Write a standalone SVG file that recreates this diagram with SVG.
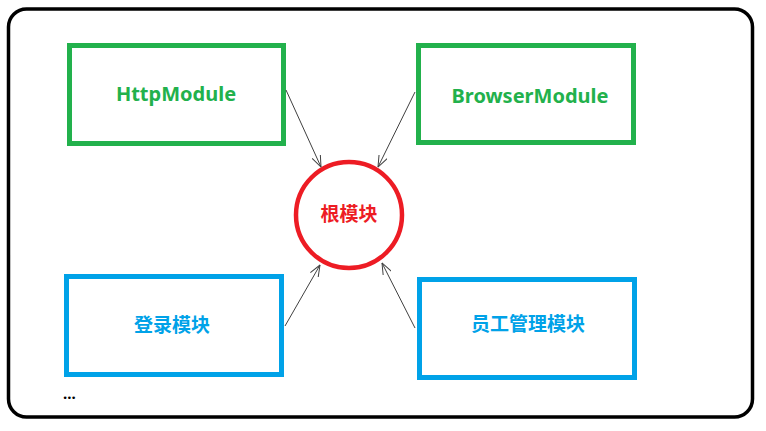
<svg xmlns="http://www.w3.org/2000/svg" width="766" height="431" viewBox="0 0 766 431">
<style>
.frame{fill:#fff;stroke:#000;stroke-width:3.5}
.g{fill:none;stroke:#22b14c;stroke-width:5}
.b{fill:none;stroke:#00a2e8;stroke-width:5}
.r{fill:none;stroke:#ed1c24;stroke-width:4.5}
.t{font-family:"Noto Sans","Noto Sans CJK SC",sans-serif;font-weight:bold;font-size:19px;text-anchor:middle}
.lat{font-size:20px}
.tg{fill:#22b14c}
.tb{fill:#00a2e8}
.tr{fill:#ed1c24}
.c{stroke:#404040;stroke-width:1;fill:none}
</style>
<defs>
<marker id="arr" markerUnits="userSpaceOnUse" viewBox="0 0 12 10" refX="11.5" refY="5" markerWidth="12" markerHeight="10" orient="auto">
<path d="M0,0.5 L11.5,5 L0,9.5" fill="none" stroke="#404040" stroke-width="1"/>
</marker>
</defs>
<rect width="766" height="431" fill="#fff"/>
<rect class="frame" x="8.5" y="9" width="744" height="408" rx="18" ry="18"/>
<g id="http">
<rect class="g" x="69.5" y="45.5" width="214" height="98"/>
<text class="t lat tg" x="176" y="101">HttpModule</text>
</g>
<g id="browser">
<rect class="g" x="418.5" y="45.5" width="215" height="97"/>
<text class="t lat tg" x="530" y="103">BrowserModule</text>
</g>
<g id="root">
<circle class="r" cx="349" cy="215" r="53"/>
<text class="t tr" x="349" y="221">根模块</text>
</g>
<g id="login">
<rect class="b" x="66.5" y="276.5" width="215" height="98"/>
<text class="t tb" x="172" y="332">登录模块</text>
</g>
<g id="employee">
<rect class="b" x="419.5" y="279.5" width="215" height="98"/>
<text class="t tb" x="528" y="331">员工管理模块</text>
</g>
<g id="more">
<text x="63" y="399" style="font-family:'Noto Sans',sans-serif;font-weight:bold;font-size:15px;fill:#000">...</text>
</g>
<g id="connectors">
<line class="c" x1="286" y1="90" x2="321" y2="167" marker-end="url(#arr)"/>
<line class="c" x1="415" y1="92" x2="378" y2="167" marker-end="url(#arr)"/>
<line class="c" x1="285" y1="326" x2="320" y2="265" marker-end="url(#arr)"/>
<line class="c" x1="415" y1="328" x2="382" y2="263" marker-end="url(#arr)"/>
</g>
</svg>
